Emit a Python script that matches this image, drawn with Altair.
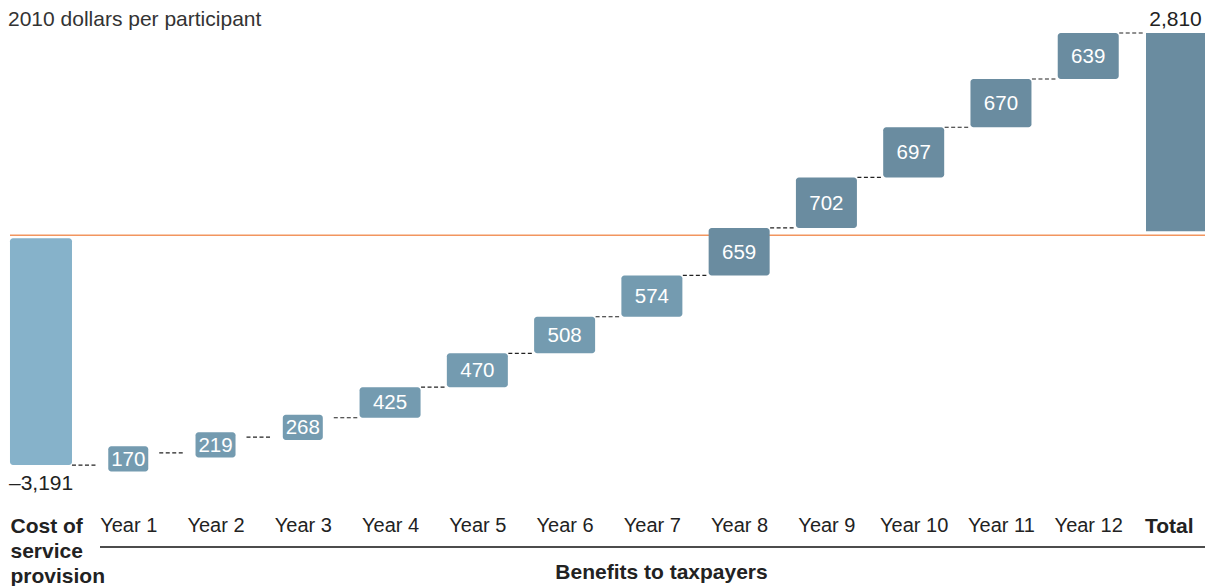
import json
import altair as alt
import pandas as pd

# ---- data ----
categories = ["Cost of service provision", "Year 1", "Year 2", "Year 3", "Year 4", "Year 5",
              "Year 6", "Year 7", "Year 8", "Year 9", "Year 10", "Year 11", "Year 12", "Total"]
cost_lines = ["Cost of", "service", "provision"]
cost_value = -3191
year_values = [170, 219, 268, 425, 470, 508, 574, 659, 702, 697, 670, 639]
total_value = 2810

# ---- styling ----
FONT = "Liberation Sans"
W, H = 1197, 492
ORANGE = "#f2955f"
COST_C = "#86b2ca"
LIGHT_C = "#749bb0"
DARK_C = "#6a8ca0"
TXT = "#222222"

rows = [dict(idx=0, kind="cost", value=cost_value, start=0, end=cost_value,
             label="\u2013" + f"{abs(cost_value):,}")]
run = cost_value
for i, v in enumerate(year_values):
    rows.append(dict(idx=i + 1, kind="year", value=v, start=run, end=run + v, label=str(v)))
    run += v
rows.append(dict(idx=len(categories) - 1, kind="total", value=total_value, start=0,
                 end=total_value, label=f"{total_value:,}"))
df = pd.DataFrame(rows)

axis_labels = [cost_lines] + categories[1:]

xscale = alt.Scale(domain=[-0.378, 13.338], nice=False, zero=False, padding=0)
yscale = alt.Scale(domain=[-3676, 3157], nice=False, zero=False, padding=0)

edge = "datum.value == 0 || datum.value == 13"
x_axis = alt.Axis(
    values=list(range(len(categories))),
    labelExpr=json.dumps(axis_labels) + "[datum.value]",
    labelFont=FONT, labelColor=TXT,
    labelFontSize={"condition": {"test": edge, "value": 21}, "value": 20},
    labelFontWeight={"condition": {"test": edge, "value": "bold"}, "value": "normal"},
    labelAlign={"condition": {"test": edge, "value": "left"}, "value": "center"},
    labelOffset={"condition": {"test": edge, "value": -31}, "value": 0},
    labelBaseline="top", labelPadding=15, labelLineHeight=25,
    labelFlush=False, labelOverlap=False, labelBound=False,
    ticks=False, domain=False, grid=False,
    title="Benefits to taxpayers", titleFont=FONT, titleFontSize=21,
    titleFontWeight="bold", titleColor=TXT, titleX=653, titleY=78,
    titleAlign="center", titleBaseline="alphabetic", titleAnchor="start",
)


def X(field="idx"):
    return alt.X(field, type="quantitative", scale=xscale, axis=x_axis)


def Y(field):
    return alt.Y(field, type="quantitative", scale=yscale, axis=None)


base = alt.Chart(df)

zero_rule = alt.Chart(pd.DataFrame({"z": [0]})).mark_rule(
    color=ORANGE, strokeWidth=1.5).encode(
    y=Y("z"), x=alt.value(2), x2=alt.value(W))

cost_bar = base.transform_filter("datum.kind == 'cost'").mark_bar(
    color=COST_C, cornerRadius=3, y2Offset=3).encode(
    x=X(), y=Y("end"), y2="start", size=alt.value(62))

year_boxes = base.transform_filter("datum.kind == 'year'").transform_calculate(
    mid="(datum.start + datum.end) / 2",
    half="max(datum.value, 350) / 2",
).transform_calculate(
    lo="datum.mid - datum.half", hi="datum.mid + datum.half"
).mark_bar(cornerRadius=3).encode(
    x=X(), y=Y("lo"), y2="hi",
    size=alt.condition("datum.value < 300", alt.value(40), alt.value(61)),
    color=alt.condition("datum.end > 0", alt.value(DARK_C), alt.value(LIGHT_C)),
)

year_text = base.transform_filter("datum.kind == 'year'").transform_calculate(
    mid="(datum.start + datum.end) / 2"
).mark_text(color="white", font=FONT, fontSize=20.5, baseline="middle", dy=1).encode(
    x=X(), y=Y("mid"), text="label:N")

total_bar = base.transform_filter("datum.kind == 'total'").mark_bar(
    color=DARK_C, y2Offset=-4).encode(
    x=X(), y=Y("end"), y2="start", size=alt.value(59))

connectors = base.transform_filter("datum.kind != 'total'").transform_calculate(
    xa="datum.idx + 0.355", xb="datum.idx + 0.645"
).mark_rule(color="#222222", strokeWidth=1.2, strokeDash=[4, 2.5]).encode(
    x=X("xa"), x2="xb", y=Y("end"))

cost_text = base.transform_filter("datum.kind == 'cost'").mark_text(
    font=FONT, fontSize=21, color=TXT, align="left", dx=-32, dy=25,
    baseline="alphabetic").encode(x=X(), y=Y("end"), text="label:N")

total_text = base.transform_filter("datum.kind == 'total'").mark_text(
    font=FONT, fontSize=21, color=TXT, align="center", dy=-7,
    baseline="alphabetic").encode(x=X(), y=Y("end"), text="label:N")

bottom_rule = alt.Chart(pd.DataFrame({"a": [0.676], "b": [13.338]})).mark_rule(
    color="#111111", strokeWidth=1.5).encode(
    x=X("a"), x2="b", y=alt.value(H + 47))

chart = alt.layer(
    zero_rule, cost_bar, year_boxes, total_bar, connectors,
    year_text, cost_text, total_text, bottom_rule,
).properties(
    width=W, height=H,
    autosize=alt.AutoSizeParams(type="none"),
    padding={"left": 0, "top": 0, "right": 0, "bottom": 86},
    title=alt.TitleParams("2010 dollars per participant", anchor="start", frame="group",
                          offset=-22, fontSize=21, fontWeight="normal", font=FONT,
                          color="#333333"),
).configure(background="white").configure_view(strokeWidth=0, stroke=None)

chart.save("out.html", embed_options={"renderer": "svg", "actions": False})
